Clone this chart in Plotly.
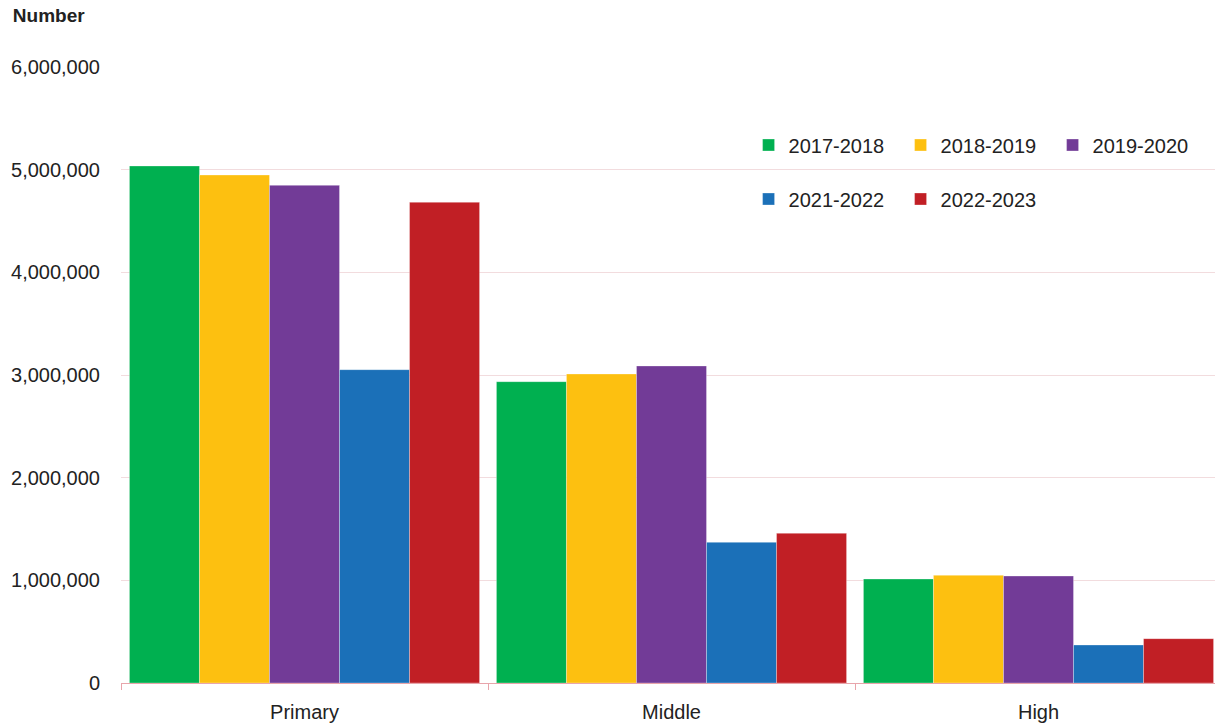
import plotly.graph_objects as go

categories = ["Primary", "Middle", "High"]
series_names = ["2017-2018", "2018-2019", "2019-2020", "2021-2022", "2022-2023"]
v_2017_2018 = [5036000, 2935000, 1013000]
v_2018_2019 = [4948000, 3010000, 1049000]
v_2019_2020 = [4847000, 3088000, 1042000]
v_2021_2022 = [3052000, 1370000, 370000]
v_2022_2023 = [4682000, 1458000, 432000]
series_values = [v_2017_2018, v_2018_2019, v_2019_2020, v_2021_2022, v_2022_2023]
colors = ["#00B050", "#FDC010", "#723B97", "#1B70B8", "#C11F25"]
tick_vals = [0, 1000000, 2000000, 3000000, 4000000, 5000000, 6000000]
tick_text = ["0", "1,000,000", "2,000,000", "3,000,000", "4,000,000", "5,000,000", "6,000,000"]

FONT = "Liberation Sans, Arial, sans-serif"
TXT = "#222222"

fig = go.Figure()
for i, (name, vals, col) in enumerate(zip(series_names, series_values, colors)):
    fig.add_trace(go.Bar(
        x=categories, y=vals, name=name,
        marker=dict(color=col, line=dict(width=1, color="rgba(255,255,255,0.3)")),
        legend="legend" if i < 3 else "legend2",
    ))

legend_common = dict(
    orientation="h", entrywidth=107, entrywidthmode="pixels",
    font=dict(family=FONT, size=20, color=TXT),
    bgcolor="rgba(0,0,0,0)", xanchor="left", yanchor="middle",
    itemclick=False, itemdoubleclick=False, traceorder="normal",
)

fig.update_layout(
    width=1215, height=718,
    margin=dict(l=113, r=1, t=59, b=43, autoexpand=False),
    paper_bgcolor="white", plot_bgcolor="white",
    barmode="group", bargap=0.046, bargroupgap=0,
    font=dict(family=FONT, size=20, color=TXT),
    showlegend=True,
    legend=dict(x=0.57, y=0.8734, **legend_common),
    legend2=dict(x=0.57, y=0.7857, **legend_common),
    title=dict(
        text="<b>Number</b>", xref="container", yref="container",
        x=0.004, y=0.999, xanchor="left", yanchor="top",
        font=dict(family=FONT, size=19, color=TXT),
    ),
    xaxis=dict(
        showline=True, linecolor="#E8A5AB", linewidth=1,
        ticks="outside", tickson="boundaries", ticklen=6, tickcolor="#E8A5AB",
        tickfont=dict(family=FONT, size=20, color=TXT),
        showgrid=False, ticklabelstandoff=11,
    ),
    yaxis=dict(
        range=[0, 6000000], tickvals=tick_vals, ticktext=tick_text,
        showgrid=True, gridcolor="#F2DCDE", gridwidth=1,
        zeroline=False, showline=False,
        tickfont=dict(family=FONT, size=20, color=TXT),
        ticklabelstandoff=20,
    ),
)

fig.write_html("out.html")
